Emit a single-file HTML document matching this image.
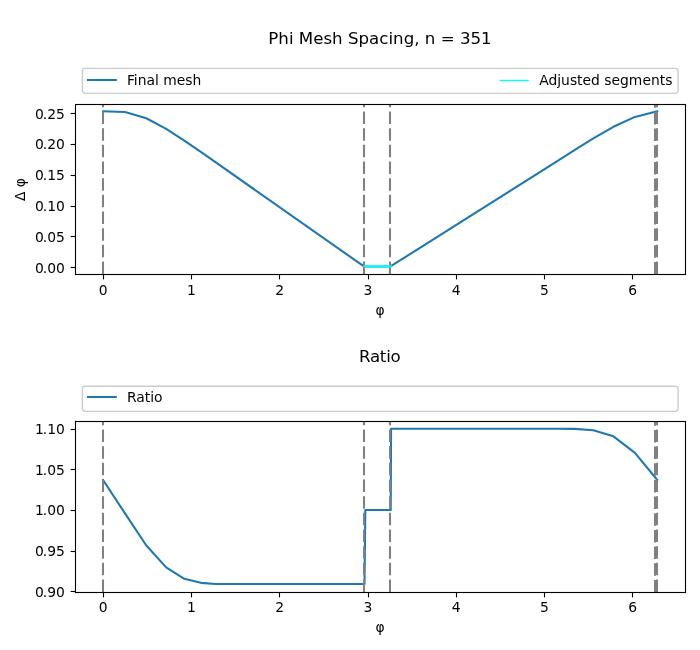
<!DOCTYPE html><html><head><meta charset="utf-8"><title>Phi Mesh Spacing</title>
<style>html,body{margin:0;padding:0;background:#fff}svg{display:block}text{font-family:"DejaVu Sans","Liberation Sans",sans-serif;fill:#000}</style></head><body>
<svg width="700" height="650" viewBox="0 0 700 650">
<rect width="700" height="650" fill="#fff"/>
<defs><clipPath id="c1"><rect x="75.5" y="104.5" width="610" height="170"/></clipPath><clipPath id="c2"><rect x="75.5" y="421.5" width="610" height="171"/></clipPath></defs>
<g clip-path="url(#c1)" fill="none" stroke-linejoin="round">
<polyline points="103.11,111.35 124.99,112.02 146.33,118.23 166.15,128.85 184.29,140.58 200.81,151.94 215.82,162.42 363.99,266.46 390.47,266.46 558.06,160.55 574.86,149.96 593.30,138.47 613.41,126.80 634.95,116.91 657.27,111.35" stroke="#1f77b4" stroke-width="2.08" stroke-linecap="square"/>
</g>
<g clip-path="url(#c1)" stroke="#808080" stroke-width="2.08" fill="none" stroke-dasharray="12.5 4.1667"><path d="M103.00 274.00V104.50"/><path d="M364.00 274.00V104.50"/><path d="M390.00 274.00V104.50"/><path d="M655.00 274.45V104.50"/><path d="M657.00 274.00V104.50"/></g>
<path d="M364.50 266.35H390.50" stroke="#00ffff" stroke-width="2.2" stroke-linecap="square" fill="none"/>
<g clip-path="url(#c2)" fill="none" stroke-linejoin="round">
<polyline points="103.11,479.96 124.99,513.41 146.33,545.48 166.15,567.41 184.29,578.86 200.81,582.84 215.82,584.00 364.52,584.00 365.31,510.00 390.73,510.00 391.08,428.80 558.06,428.80 574.86,428.88 593.30,430.26 613.41,436.35 634.95,452.84 657.27,479.96" stroke="#1f77b4" stroke-width="2.08" stroke-linecap="square"/>
</g>
<g clip-path="url(#c2)" stroke="#808080" stroke-width="2.08" fill="none" stroke-dasharray="12.5 4.1667"><path d="M103.00 592.00V421.50"/><path d="M364.00 592.00V421.50"/><path d="M390.00 592.00V421.50"/><path d="M655.00 592.45V421.50"/><path d="M657.00 592.00V421.50"/></g>
<rect x="75.5" y="104.5" width="610" height="170" fill="none" stroke="#000" stroke-width="1.11"/><g stroke="#000" stroke-width="1.11"><path d="M103.50 274.50v4.86"/><path d="M191.50 274.50v4.86"/><path d="M279.50 274.50v4.86"/><path d="M368.50 274.50v4.86"/><path d="M456.50 274.50v4.86"/><path d="M544.50 274.50v4.86"/><path d="M632.50 274.50v4.86"/><path d="M75.50 267.50h-4.86"/><path d="M75.50 236.50h-4.86"/><path d="M75.50 206.50h-4.86"/><path d="M75.50 175.50h-4.86"/><path d="M75.50 144.50h-4.86"/><path d="M75.50 113.50h-4.86"/></g><g font-size="13.89px" text-anchor="middle"><text x="103.16" y="295.17">0</text><text x="191.41" y="295.17">1</text><text x="279.66" y="295.17">2</text><text x="367.92" y="295.17">3</text><text x="456.17" y="295.17">4</text><text x="544.43" y="295.17">5</text><text x="632.68" y="295.17">6</text></g><g font-size="13.89px" text-anchor="end"><text x="64.90" y="272.50">0<tspan dx="-1.1">.00</tspan></text><text x="64.90" y="241.70">0<tspan dx="-1.1">.05</tspan></text><text x="64.90" y="210.90">0<tspan dx="-1.1">.10</tspan></text><text x="64.90" y="180.10">0<tspan dx="-1.1">.15</tspan></text><text x="64.90" y="149.30">0<tspan dx="-1.1">.20</tspan></text><text x="64.90" y="118.50">0<tspan dx="-1.1">.25</tspan></text></g><text font-size="13.89px" text-anchor="middle" x="380.00" y="314.87">φ</text>
<rect x="75.5" y="421.5" width="610" height="171" fill="none" stroke="#000" stroke-width="1.11"/><g stroke="#000" stroke-width="1.11"><path d="M103.50 592.50v4.86"/><path d="M191.50 592.50v4.86"/><path d="M279.50 592.50v4.86"/><path d="M368.50 592.50v4.86"/><path d="M456.50 592.50v4.86"/><path d="M544.50 592.50v4.86"/><path d="M632.50 592.50v4.86"/><path d="M75.50 591.50h-4.86"/><path d="M75.50 551.50h-4.86"/><path d="M75.50 510.50h-4.86"/><path d="M75.50 469.50h-4.86"/><path d="M75.50 429.50h-4.86"/></g><g font-size="13.89px" text-anchor="middle"><text x="103.16" y="611.70">0</text><text x="191.41" y="611.70">1</text><text x="279.66" y="611.70">2</text><text x="367.92" y="611.70">3</text><text x="456.17" y="611.70">4</text><text x="544.43" y="611.70">5</text><text x="632.68" y="611.70">6</text></g><g font-size="13.89px" text-anchor="end"><text x="64.90" y="596.50">0<tspan dx="-1.1">.90</tspan></text><text x="64.90" y="555.90">0<tspan dx="-1.1">.95</tspan></text><text x="64.90" y="515.30">1<tspan dx="-1.1">.00</tspan></text><text x="64.90" y="474.70">1<tspan dx="-1.1">.05</tspan></text><text x="64.90" y="434.10">1<tspan dx="-1.1">.10</tspan></text></g><text font-size="13.89px" text-anchor="middle" x="380.00" y="632.37">φ</text>
<text font-size="13.89px" text-anchor="middle" transform="translate(25.2 189.50) rotate(-90)">Δ φ</text>
<text font-size="16.67px" text-anchor="middle" x="380.00" y="44">Phi Mesh Spacing, n = 351</text>
<text font-size="16.67px" text-anchor="middle" x="379.70" y="362" letter-spacing="-0.25">Ratio</text>
<rect x="82.4" y="68.40" width="595.7" height="25.00" rx="2.8" ry="2.8" fill="#fff" fill-opacity="0.8" stroke="#ccc" stroke-width="1.39"/><path d="M88.00 80.00h27.78" stroke="#1f77b4" stroke-width="2.08" fill="none" stroke-linecap="square"/><text font-size="13.89px" x="126.88" y="84.90">Final mesh</text><path d="M500.30 80.50h27.78" stroke="#00ffff" stroke-width="1.39" fill="none" stroke-linecap="square"/><text font-size="13.89px" x="539.18" y="84.90">Adjusted segments</text>
<rect x="82.4" y="386.20" width="595.7" height="25.20" rx="2.8" ry="2.8" fill="#fff" fill-opacity="0.8" stroke="#ccc" stroke-width="1.39"/><path d="M88.00 397.00h27.78" stroke="#1f77b4" stroke-width="2.08" fill="none" stroke-linecap="square"/><text font-size="13.89px" x="126.88" y="401.90">Ratio</text>
</svg></body></html>
